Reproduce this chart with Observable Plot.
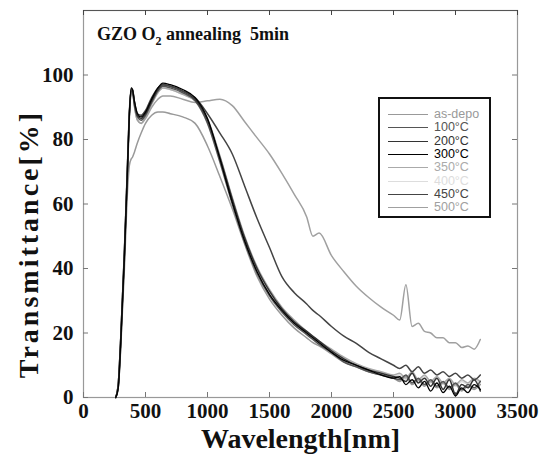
<!DOCTYPE html>
<html>
<head>
<meta charset="utf-8">
<script src="https://cdn.jsdelivr.net/npm/d3@7"></script>
<script src="https://cdn.jsdelivr.net/npm/@observablehq/plot@0.6"></script>
<style>
  html, body { margin: 0; padding: 0; background: #fff; }
  #wrap { position: relative; width: 553px; height: 460px; }
  #title { position: absolute; left: 97px; top: 23px; font-family: 'Liberation Serif', serif; font-weight: bold; font-size: 18px; line-height: 22px; color: #111; white-space: pre; }
  #title sub { font-size: 12px; vertical-align: -5px; line-height: 0; }
  #ylabel { position: absolute; left: 29px; top: 244px; transform: translate(-50%, -50%) rotate(-90deg); font-family: 'Liberation Serif', serif; font-weight: bold; font-size: 28px; line-height: 30px; letter-spacing: 3px; color: #111; white-space: nowrap; }
  #legend { position: absolute; left: 378px; top: 97px; width: 109px; height: 117px; border: 2px solid #111; background: #fff; box-sizing: content-box; }
  .lg { position: absolute; left: 8px; height: 13px; line-height: 13px; display: flex; align-items: center; font-family: 'Liberation Sans', Arial, sans-serif; font-size: 12.5px; white-space: nowrap; }
  .lg span.ln { display: inline-block; width: 40px; height: 0; border-top: 1.5px solid; margin-right: 6px; }
</style>
</head>
<body>
<div id="wrap"></div>
<script>
const wavelengths = [260, 280, 300, 330, 355, 370, 385, 395, 410, 435, 465, 500, 550, 600, 640, 700, 800, 900, 1000, 1100, 1200, 1300, 1400, 1500, 1600, 1700, 1800, 1850, 1900, 2000, 2100, 2200, 2300, 2400, 2500, 2550, 2600, 2650, 2700, 2750, 2800, 2850, 2900, 2950, 3000, 3050, 3100, 3150, 3200];

const seriesNames = ["as-depo", "100°C", "200°C", "300°C", "350°C", "400°C", "450°C", "500°C"];
const seriesColors = ["#999999", "#555555", "#333333", "#000000", "#aaaaaa", "#dddddd", "#444444", "#a0a0a0"];

const asDepo = [0,3,15,40,64,72,74,74.5,76,79,82,85,87.5,88.5,88.5,88,87,85,78,68.5,58.5,47.5,37.5,30.5,25.5,21.5,18.5,17,16,13.5,11,9.5,8,7,6,5,6.5,4,5.5,3.5,5,3,4.5,2.5,4,2,3.5,2.5,4];
const t100 = [0,4,18,45,72,88,95.5,95,91,87,86,87.5,91.5,95,96.5,96,94.5,92,85,73,60,48,38.5,31.5,26.5,22.5,19.5,18,16.5,14,11,9.5,8,7,6,5.5,7,4.5,6,4,5.5,3.5,5,3,4.5,2.5,4,3,5];
const t200 = [0,3,16,43,70,87,95,95.5,91.5,87.5,86.5,88,92,95.5,97,96.5,95,92.5,86,74.5,61.5,49.5,40,33,27.5,23.5,20.5,19,17.5,14.5,12,10,8.5,7.5,6.5,6,5,7.5,4.5,6,3.5,6,2.5,5.5,1,4,3,5.5,2];
const t300 = [0,3,17,44,71,88,96,95.5,92,88,87,88.5,92.5,96,97.5,97,95.5,93,86.5,74,60.5,48.5,39,32,27,23,20,18.5,17,14,11.5,10,8.5,7,6,6.5,4,5.5,3,5,2,4.5,1.5,3.5,0.5,3,1.5,4,2.5];
const t350 = [0,4,18,46,73,89,96,95,90.5,86,85,87,91,94.5,96,95.5,94,92,86.5,75,62,50,40.5,33.5,28,24,20.5,19,17.5,15,12.5,10.5,9,8,7,7.5,6,8,5.5,7,5,6.5,4.5,6,4,5.5,4.5,6,5];
const t400 = [0,4,19,46,73,89,96,95.5,91,87,86,87.5,91,94.5,96,95.5,94,92,86,74.5,61.5,49.5,40,33,27.5,23.5,20,18.5,17,14.5,12,10,8.5,7.5,6.5,7,5.5,7.5,5,6.5,4.5,6,4,5.5,3.5,5,4,5.5,4.5];
const t450 = [0,4,18,45,72,88,95.5,95.5,92,88,87.5,89,93,96,97,96.5,95,93,88,82,75.5,65.5,55.5,46.5,37.5,32.5,29,27,25.5,22,19,16.8,14,12,10,9,10,8,9.5,7.5,8.5,7,8,6.5,7.5,6,7,5.5,7];
const t500 = [0,4,18,45,72,88,95,95,90.5,86,85,86.5,90,92.5,93.5,93.5,92.5,91.5,92,92.5,90.5,85.5,80.5,75.5,69.5,63,56,50,51,44,39,34.5,31,28,25.5,24,35,22,23,20.5,20,18.5,18.5,17,17,15.5,16,15,18];

const xTicks = [0, 500, 1000, 1500, 2000, 2500, 3000, 3500];
const yTicks = [0, 20, 40, 60, 80, 100];
const titleParts = ["GZO O", "2", " annealing  5min"];
const xLabel = "Wavelength[nm]";
const yLabel = "Transmittance[%]";

const allSeries = [asDepo, t100, t200, t300, t350, t400, t450, t500];
const rows = [];
seriesNames.forEach((name, si) => {
  wavelengths.forEach((w, i) => rows.push({series: name, wl: w, t: allSeries[si][i]}));
});
const drawOrder = ["400°C", "350°C", "500°C", "as-depo", "100°C", "200°C", "450°C", "300°C"];

const W = 553, H = 460, mL = 83, mR = 36, mT = 10, mB = 63;
const innerW = W - mL - mR, innerH = H - mT - mB;

const marks = [
  Plot.frame({stroke: "#999", strokeWidth: 1.2}),
  Plot.ruleY([120], {stroke: "#555", strokeWidth: 1.2}),
  Plot.tickX(xTicks, {x: d => d, insetTop: innerH - 5, stroke: "#777"}),
  Plot.tickX(xTicks, {x: d => d, insetBottom: innerH - 5, stroke: "#444"}),
  Plot.tickY(yTicks, {y: d => d, insetRight: innerW - 5, stroke: "#777"}),
  Plot.tickY(yTicks, {y: d => d, insetLeft: innerW - 5, stroke: "#777"}),
  Plot.axisX({ticks: xTicks, tickSize: 0, tickPadding: 6, tickFormat: d => String(d), label: null}),
  Plot.axisY({ticks: yTicks, tickSize: 0, tickPadding: 10, tickFormat: d => String(d), label: null}),
  ...drawOrder.map(name => Plot.line(rows.filter(r => r.series === name), {
    x: "wl", y: "t",
    stroke: seriesColors[seriesNames.indexOf(name)],
    strokeWidth: name === "300°C" ? 1.3 : 1.5,
    curve: "monotone-x"
  })),
  Plot.text([xLabel], {frameAnchor: "bottom", dy: 50, fontSize: 28, fontWeight: "bold", fill: "#111"})
];

const chart = Plot.plot({
  width: W, height: H,
  marginLeft: mL, marginRight: mR, marginTop: mT, marginBottom: mB,
  x: {domain: [0, 3500]},
  y: {domain: [0, 120]},
  style: {fontFamily: "'Liberation Serif', 'Times New Roman', serif", fontWeight: "bold", fontSize: "21px", color: "#111", background: "#fff"},
  marks
});

const wrap = document.getElementById("wrap");
wrap.appendChild(chart);

const title = document.createElement("div");
title.id = "title";
title.innerHTML = `${titleParts[0]}<sub>${titleParts[1]}</sub>${titleParts[2]}`;
wrap.appendChild(title);

const ylab = document.createElement("div");
ylab.id = "ylabel";
ylab.textContent = yLabel;
wrap.appendChild(ylab);

const legend = document.createElement("div");
legend.id = "legend";
seriesNames.forEach((name, i) => {
  const row = document.createElement("div");
  row.className = "lg";
  row.style.top = (9 + i * 13.3) + "px";
  row.style.color = seriesColors[i];
  const ln = document.createElement("span");
  ln.className = "ln";
  ln.style.borderTopColor = seriesColors[i];
  row.appendChild(ln);
  row.appendChild(document.createTextNode(name));
  legend.appendChild(row);
});
wrap.appendChild(legend);
</script>
</body>
</html>
